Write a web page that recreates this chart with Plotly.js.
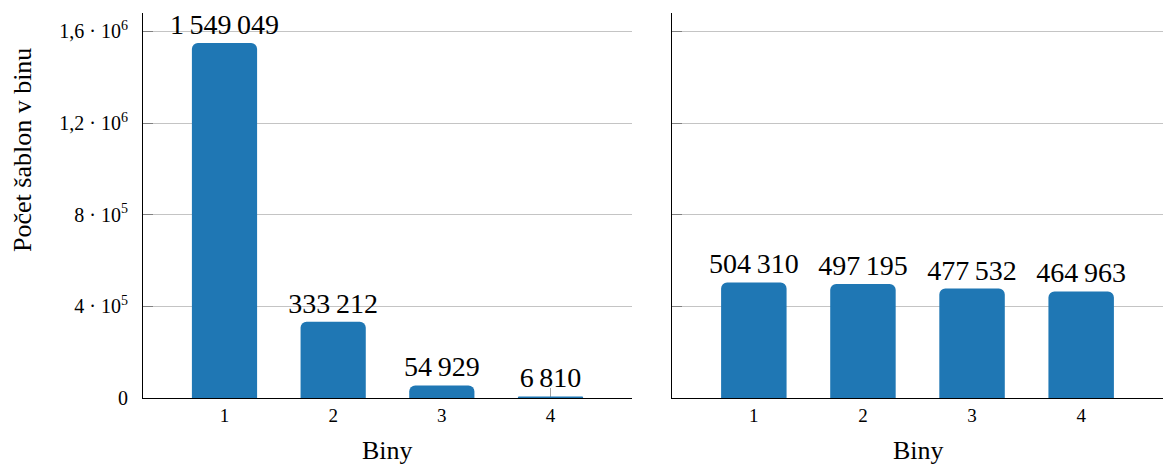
<!DOCTYPE html>
<html>
<head>
<meta charset="utf-8">
<script src="https://cdn.plot.ly/plotly-3.0.1.min.js"></script>
<style>html,body{margin:0;padding:0;background:#fff}#chart{width:1163px;height:466px}</style>
</head>
<body>
<div id="chart"></div>
<script>
const categories = ["1", "2", "3", "4"];
const leftValues = [1549049, 333212, 54929, 6810];
const rightValues = [504310, 497195, 477532, 464963];
const yTickVals = [0, 400000, 800000, 1200000, 1600000];
const yTickText = ["0", "4 · 10<sup>5</sup>", "8 · 10<sup>5</sup>", "1,2 · 10<sup>6</sup>", "1,6 · 10<sup>6</sup>"];
const yTitle = "Počet šablon v binu";
const xTitle = "Biny";

function fmt(v) {
  return String(v).replace(/\B(?=(\d{3})+(?!\d))/g, "\u2009");
}

const FONT = "'Liberation Serif', 'DejaVu Serif', serif";
const BLUE = "#1f77b4";
const xs = categories.map(Number);

function barTrace(vals, xa, ya) {
  return {
    type: "bar",
    x: xs,
    y: vals,
    xaxis: xa,
    yaxis: ya,
    width: 0.6,
    marker: {color: BLUE, line: {width: 0}},
    text: vals.map(fmt),
    textposition: "outside",
    constraintext: "none",
    textfont: {family: FONT, size: 28, color: "#000"},
    cliponaxis: false,
    hoverinfo: "skip"
  };
}

const xBase = {
  range: [0.25, 4.75],
  tickvals: xs,
  ticktext: categories,
  ticks: "inside",
  ticklen: 10,
  tickcolor: "#a0a0a0",
  showline: true,
  linecolor: "#000",
  linewidth: 1,
  showgrid: false,
  zeroline: false,
  layer: "below traces",
  tickfont: {family: FONT, size: 19, color: "#000"},
  fixedrange: true
};
const yBase = {
  range: [0, 1680000],
  tickvals: yTickVals,
  ticktext: yTickText,
  ticks: "inside",
  ticklen: 10,
  tickcolor: "#808080",
  showline: true,
  linecolor: "#000",
  linewidth: 1,
  showgrid: true,
  gridcolor: "#c4c4c4",
  gridwidth: 1,
  zeroline: false,
  tickfont: {family: FONT, size: 20, color: "#000"},
  fixedrange: true
};

const layout = {
  width: 1163,
  height: 466,
  margin: {l: 0, r: 0, t: 13, b: 68},
  paper_bgcolor: "#fff",
  plot_bgcolor: "#fff",
  showlegend: false,
  barcornerradius: 6,
  font: {family: FONT, color: "#000"},
  xaxis: Object.assign({}, xBase, {domain: [143/1163, 632/1163], anchor: "y"}),
  yaxis: Object.assign({}, yBase, {domain: [0, 1], anchor: "x", ticklabelstandoff: 10}),
  xaxis2: Object.assign({}, xBase, {domain: [672/1163, 1], anchor: "y2"}),
  yaxis2: Object.assign({}, yBase, {domain: [0, 1], anchor: "x2", showticklabels: false}),
  annotations: [
    {text: yTitle, xref: "paper", yref: "paper", x: 22/1163, y: (466-13-205)/385, xanchor: "center", yanchor: "middle", textangle: -90, showarrow: false, font: {family: FONT, size: 26, color: "#000"}},
    {text: xTitle, xref: "paper", yref: "paper", x: 387/1163, y: -52/385, xanchor: "center", yanchor: "middle", showarrow: false, font: {family: FONT, size: 26, color: "#000"}},
    {text: xTitle, xref: "paper", yref: "paper", x: 918/1163, y: -52/385, xanchor: "center", yanchor: "middle", showarrow: false, font: {family: FONT, size: 26, color: "#000"}}
  ]
};

Plotly.newPlot("chart", [barTrace(leftValues, "x", "y"), barTrace(rightValues, "x2", "y2")], layout, {staticPlot: true, displayModeBar: false});
</script>
</body>
</html>
